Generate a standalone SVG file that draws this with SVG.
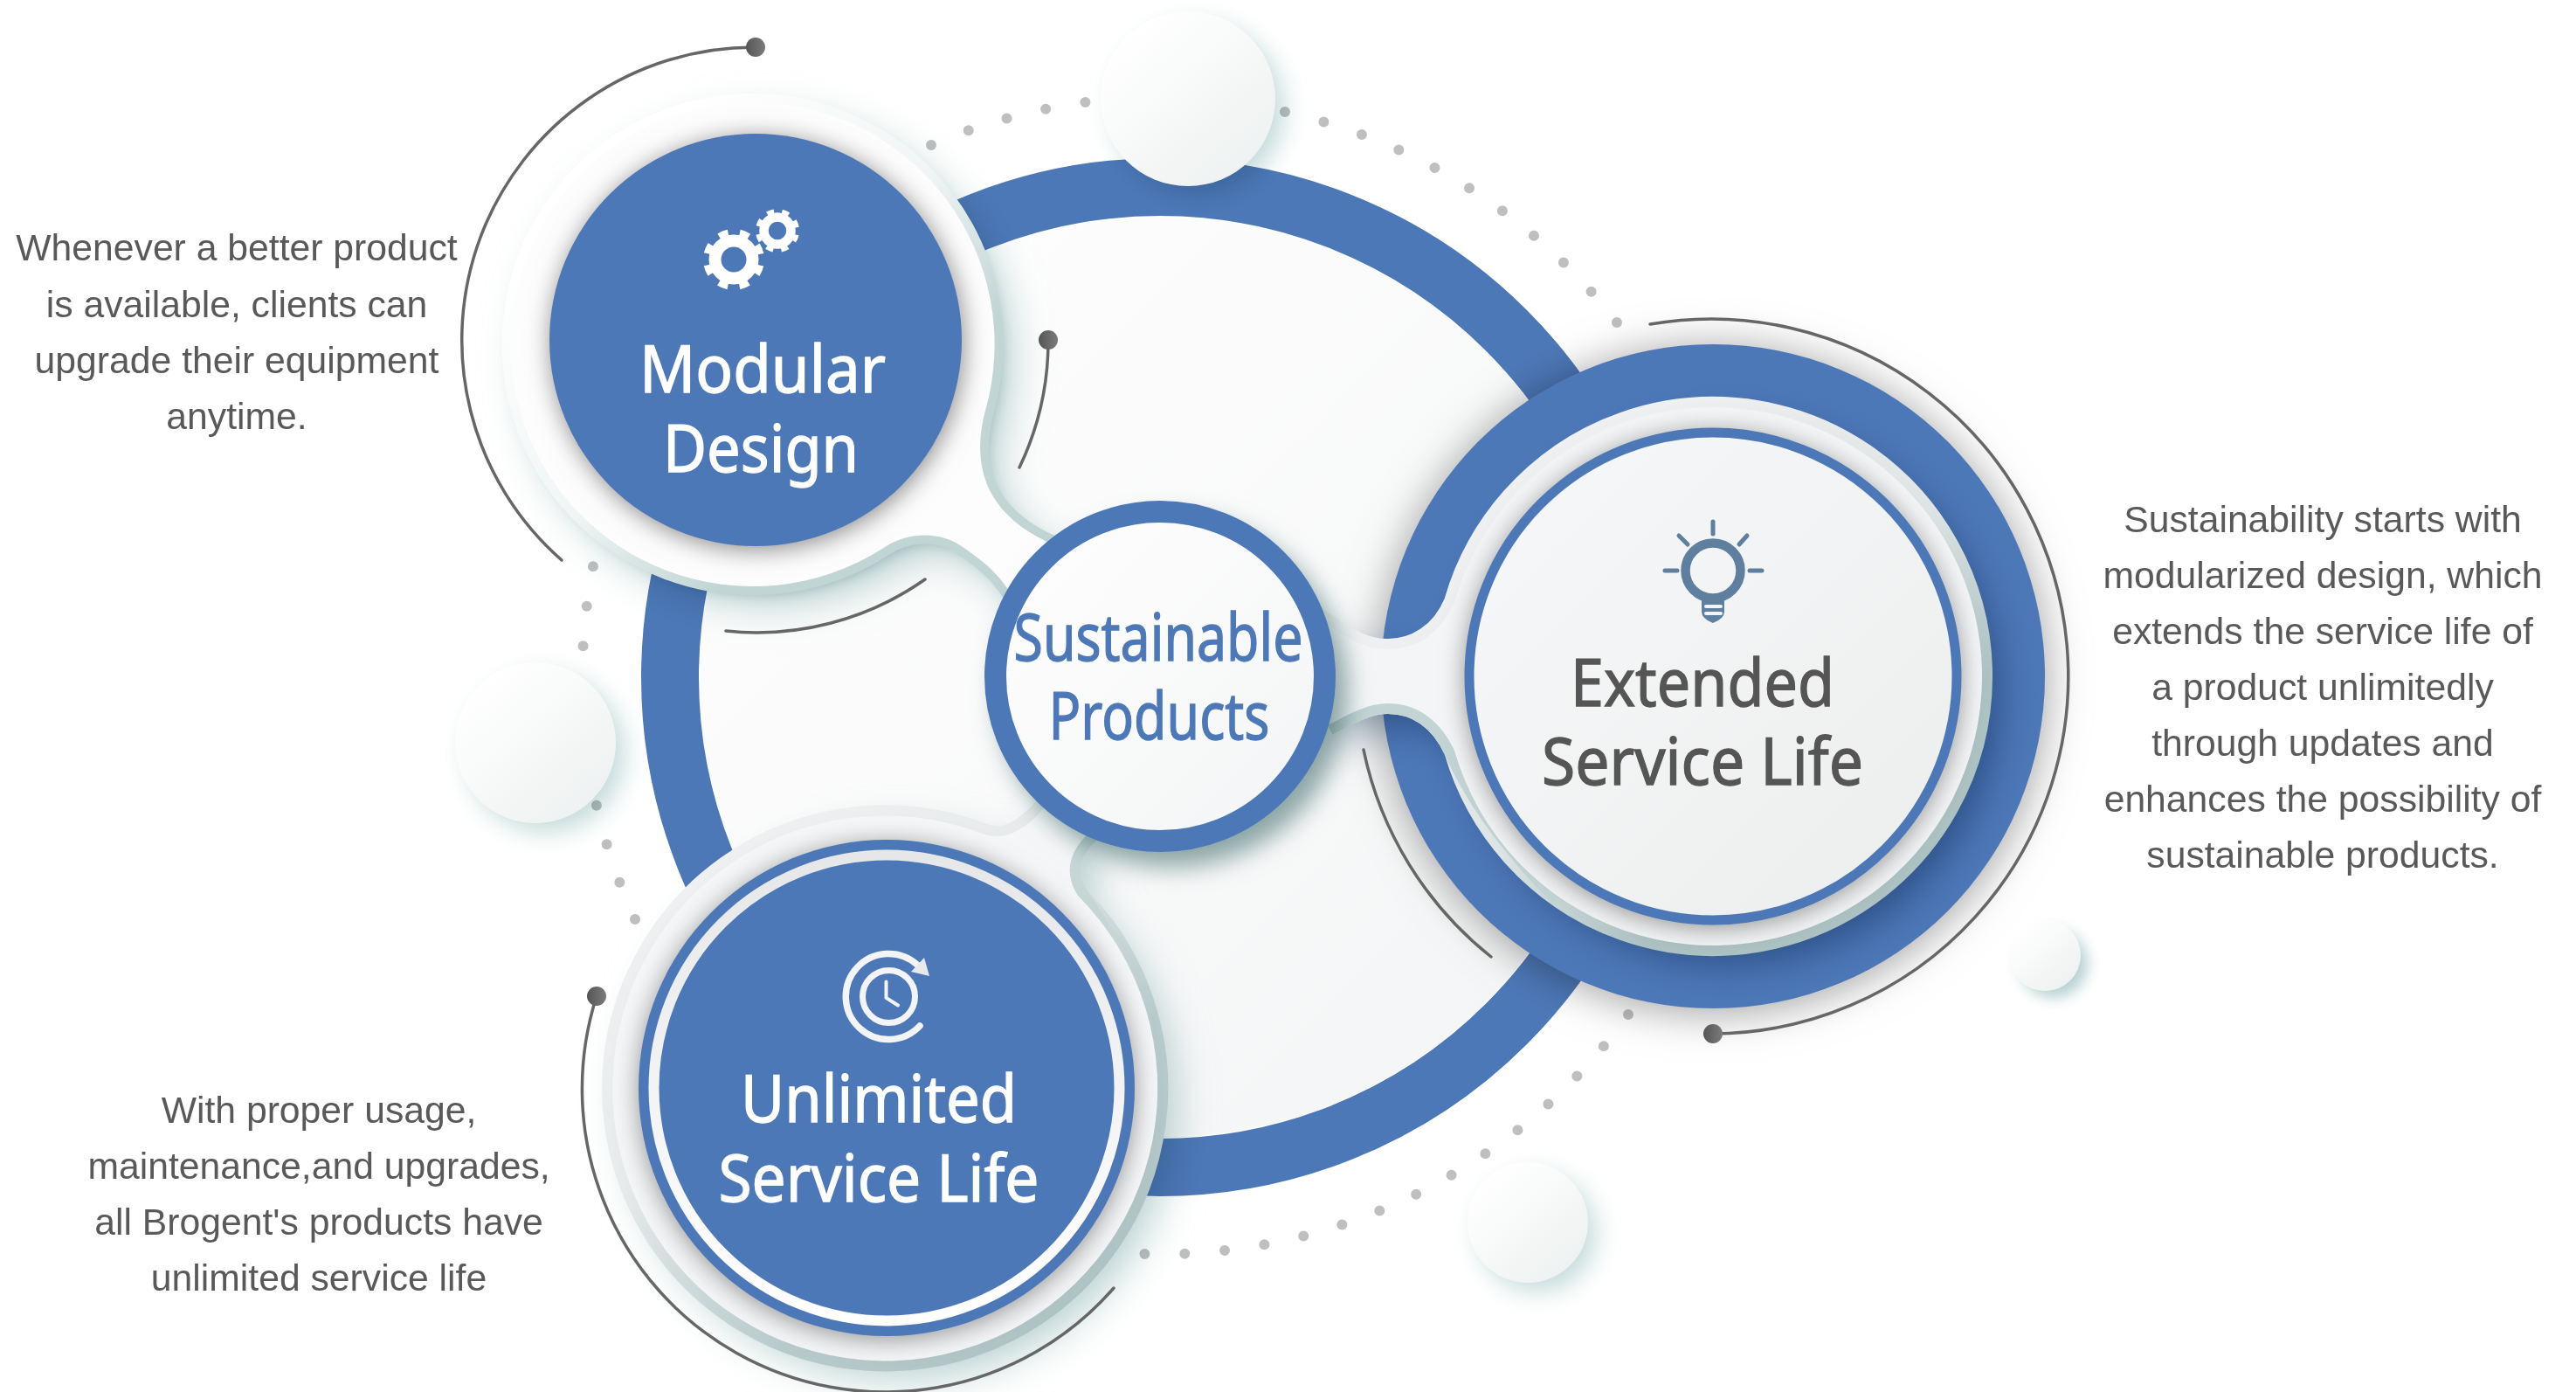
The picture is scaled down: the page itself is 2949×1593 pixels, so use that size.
<svg xmlns="http://www.w3.org/2000/svg" width="2949" height="1593" viewBox="0 0 2949 1593">
<style>
.title{font-family:"Noto Sans","Open Sans","Liberation Sans",sans-serif;font-size:75px;text-anchor:middle;stroke-width:1.3}
.body{font-family:"Liberation Sans",Arial,sans-serif;font-size:42.7px;fill:#595959;text-anchor:middle}
.sh{mix-blend-mode:multiply}
.dots{fill:none;stroke:#bdbfc1;stroke-width:12;stroke-linecap:round;stroke-dasharray:0 45.9}
.arc{fill:none;stroke:#666;stroke-width:3.5;stroke-linecap:round}
</style>
<defs>
<filter id="b8" x="-30%" y="-30%" width="160%" height="160%"><feGaussianBlur stdDeviation="8"/></filter>
<filter id="b14" x="-30%" y="-30%" width="160%" height="160%"><feGaussianBlur stdDeviation="14"/></filter>
<filter id="b24" x="-30%" y="-30%" width="160%" height="160%"><feGaussianBlur stdDeviation="24"/></filter>
<linearGradient id="plate" x1="0" y1="0" x2="1" y2="1"><stop offset="0" stop-color="#fff"/><stop offset="1" stop-color="#f3f4f5"/></linearGradient>
<linearGradient id="ball" x1="0.2" y1="0.1" x2="0.9" y2="0.9"><stop offset="0" stop-color="#fff"/><stop offset="1" stop-color="#eef1f1"/></linearGradient>
<linearGradient id="pin"><stop offset="0" stop-color="#555"/><stop offset="1" stop-color="#7c7c7c"/></linearGradient>
<linearGradient id="inner" x1="0" y1="0" x2="1" y2="1"><stop offset="0" stop-color="#f7f8f9"/><stop offset="1" stop-color="#eceded"/></linearGradient>
<linearGradient id="bandMod" gradientUnits="userSpaceOnUse" x1="700" y1="200" x2="1050" y2="560"><stop offset="0" stop-color="#fff"/><stop offset=".5" stop-color="#f0f5f5"/><stop offset=".85" stop-color="#c0d5d4"/></linearGradient>
<linearGradient id="bandExt" gradientUnits="userSpaceOnUse" x1="1800" y1="540" x2="2200" y2="1040"><stop offset="0" stop-color="#eff0f1"/><stop offset=".45" stop-color="#dfe5e6"/><stop offset=".75" stop-color="#adc2c3"/></linearGradient>
<linearGradient id="bandUnl" gradientUnits="userSpaceOnUse" x1="800" y1="1000" x2="1250" y2="1500"><stop offset="0" stop-color="#eef0f1"/><stop offset=".3" stop-color="#e8ebec"/><stop offset=".7" stop-color="#b8cbcc"/><stop offset="1" stop-color="#aec3c5"/></linearGradient>
<linearGradient id="halo" x1="0" y1="0" x2="0" y2="1"><stop offset="0" stop-color="#e6e7e9"/><stop offset="1" stop-color="#fff"/></linearGradient>
<path id="modBlob" d="M1128 470C1112 530 1125 590 1210 625L1165 695C1150 660 1125 642 1105 628C1075 605 1035 610 1010 628A277 277 0 1 1 1128 470Z"/>
<path id="extBlob" d="M1665 689C1650 725 1620 743 1589 743C1565 743 1545 733 1520 715L1520 830C1545 817 1565 805 1589 805C1620 805 1648 822 1665 859A308 308 0 1 0 1665 689Z"/>
<path id="unlBlob" d="M1122 953C1140 960 1162 962 1195 925L1250 950C1222 975 1218 1000 1234 1025A312 312 0 1 1 1122 953Z"/>
</defs>
<rect width="2949" height="1593" fill="#fff"/>
<g id="background-dots">
<path class="dots" d="M1066 166A663 663 0 0 1 1243 117"/>
<path class="dots" d="M1471 128A663 663 0 0 1 1851 369"/>
<path class="dots" d="M727 1052A662 662 0 0 1 679 648"/>
<path class="dots" d="M1864 1161A661 661 0 0 1 1310 1435"/>
</g>
<g id="main-ring">
<circle cx="1328" cy="775" r="527" fill="url(#plate)"/>
<circle cx="1328" cy="775" r="561" fill="none" stroke="#4d78b8" stroke-width="66"/>
</g>
<g id="decor">
<g><circle class="sh" cx="1372" cy="125" r="98" fill="#c4dada" filter="url(#b14)"/><circle cx="1360" cy="113" r="100" fill="url(#ball)"/></g>
<g><circle class="sh" cx="625" cy="862" r="90" fill="#c4dada" filter="url(#b14)"/><circle cx="613" cy="850" r="92" fill="url(#ball)"/></g>
<g><circle class="sh" cx="1760" cy="1411" r="67" fill="#c4dada" filter="url(#b14)"/><circle cx="1749" cy="1399" r="69" fill="url(#ball)"/></g>
<g><circle class="sh" cx="2351" cy="1103" r="39" fill="#b6d2d1" filter="url(#b8)"/><circle cx="2341" cy="1093" r="41" fill="url(#ball)"/></g>
</g>
<g id="node-extended">
<circle class="sh" cx="1961" cy="778" r="382" fill="#a5a5a5" filter="url(#b24)"/>
<circle cx="1961" cy="774" r="380" fill="#4d78b8"/>
<use href="#extBlob" class="sh" fill="#8ea6b8" filter="url(#b24)" transform="translate(18,20)"/>
<use href="#extBlob" fill="none" stroke="url(#bandExt)" stroke-width="24"/>
<path d="M1520 830C1545 817 1565 805 1589 805C1620 805 1648 822 1665 859C1685 905 1720 960 1790 1030" fill="none" stroke="#c2d5d4" stroke-width="24"/>
<use href="#extBlob" fill="#f4f5f6"/>
<circle class="sh" cx="1961" cy="778" r="284" fill="#9a9a9a" filter="url(#b14)"/>
<circle cx="1961" cy="774" r="279" fill="url(#inner)" stroke="#4d78b8" stroke-width="11"/>
<g fill="none" stroke="#5f7f9f" stroke-width="5" stroke-linecap="round">
<circle cx="1961" cy="653" r="31.5" stroke-width="10.5"/>
<path d="M1961 597V611M1922 613L1932 623M2000 613L1991 623M1906 653H1920M2003 653H2017"/>
</g>
<path d="M1948 680V700Q1948 708 1961 713Q1974 708 1974 700V680Z" fill="#5f7f9f"/>
<path d="M1953 694H1970M1953 702H1970" stroke="#f2f3f4" stroke-width="4" stroke-linecap="round"/>
<text class="title" x="1949" y="808" fill="#555" stroke="#555" textLength="302" lengthAdjust="spacingAndGlyphs">Extended</text>
<text class="title" x="1949" y="898" fill="#555" stroke="#555" textLength="368" lengthAdjust="spacingAndGlyphs">Service Life</text>
</g>
<g id="node-unlimited">
<use href="#unlBlob" class="sh" fill="#b6cfcf" filter="url(#b24)" transform="translate(18,20)"/>
<use href="#unlBlob" fill="none" stroke="url(#bandUnl)" stroke-width="24"/>
<path d="M1250 950C1222 975 1218 1000 1234 1025C1260 1060 1285 1110 1305 1180" fill="none" stroke="#c6d7d6" stroke-width="24"/>
<use href="#unlBlob" fill="#f5f6f7"/>
<circle class="sh" cx="1015" cy="1249" r="284" fill="#9a9a9a" filter="url(#b14)"/>
<circle cx="1015" cy="1245" r="284" fill="#4d78b8"/>
<circle cx="1015" cy="1245" r="266.5" fill="none" stroke="url(#halo)" stroke-width="12"/>
<g fill="none" stroke="#f3f4f5" stroke-linecap="round">
<path d="M1053 1174A49 49 0 1 1 1050 1104" stroke-width="7.5"/>
<circle cx="1017.5" cy="1140.5" r="30" stroke-width="7"/>
<path d="M1014.5 1123.5V1142L1028 1150.5" stroke-width="4"/>
</g>
<polygon points="1058,1096 1064,1117 1043,1112" fill="#e8e9eb"/>
<text class="title" x="1006" y="1284" fill="#fff" stroke="#fff" textLength="316" lengthAdjust="spacingAndGlyphs">Unlimited</text>
<text class="title" x="1006" y="1375" fill="#fff" stroke="#fff" textLength="367" lengthAdjust="spacingAndGlyphs">Service Life</text>
</g>
<g id="node-modular">
<use href="#modBlob" class="sh" fill="#b3cdcc" filter="url(#b24)" transform="translate(16,18)"/>
<use href="#modBlob" class="sh" fill="#c4d9d8" filter="url(#b8)" transform="translate(7,8)"/>
<use href="#modBlob" fill="#fdfdfd" stroke="url(#bandMod)" stroke-width="20" paint-order="stroke"/>
<circle class="sh" cx="867" cy="393" r="236" fill="#8c8c8c" filter="url(#b14)"/>
<circle cx="865" cy="389" r="236" fill="#4d78b8"/>
<g fill="none" stroke="#fff">
<circle cx="840" cy="297" r="21.5" stroke-width="14"/>
<circle cx="840" cy="297" r="31" stroke-width="8" stroke-dasharray="11 13.35" stroke-dashoffset="-6.67"/>
<circle cx="890" cy="264" r="15.5" stroke-width="10.5"/>
<circle cx="890" cy="264" r="22" stroke-width="6" stroke-dasharray="8 9.28" stroke-dashoffset="-4.64"/>
</g>
<text class="title" x="873" y="449" fill="#fff" stroke="#fff" textLength="282" lengthAdjust="spacingAndGlyphs">Modular</text>
<text class="title" x="871" y="540" fill="#fff" stroke="#fff" textLength="224" lengthAdjust="spacingAndGlyphs">Design</text>
</g>
<g id="node-center">
<circle class="sh" cx="1342" cy="792" r="200" fill="#8fa9a9" filter="url(#b14)"/>
<circle cx="1328" cy="774" r="188.5" fill="url(#plate)" stroke="#4d78b8" stroke-width="25"/>
<text class="title" x="1326" y="756" fill="#4d78b8" stroke="#4d78b8" textLength="331" lengthAdjust="spacingAndGlyphs">Sustainable</text>
<text class="title" x="1327" y="846" fill="#4d78b8" stroke="#4d78b8" textLength="253" lengthAdjust="spacingAndGlyphs">Products</text>
</g>
<g id="connectors">
<path class="arc" d="M865 54A335 335 0 0 0 643 641"/>
<path class="arc" d="M1200 389A335 335 0 0 1 1167 535"/>
<path class="arc" d="M1059 663A335 335 0 0 1 831 722"/>
<path class="arc" d="M1889 371A409 409 0 1 1 1961 1183"/>
<path class="arc" d="M1561 858A409 409 0 0 0 1707 1095"/>
<path class="arc" d="M683 1140A347 347 0 0 0 1275 1474"/>
<g fill="url(#pin)">
<circle cx="865" cy="54" r="11"/>
<circle cx="1200" cy="389" r="11"/>
<circle cx="1961" cy="1183" r="11"/>
<circle cx="683" cy="1140" r="11"/>
</g>
</g>
<g id="desc-modular">
<text class="body" x="271" y="298">Whenever a better product</text>
<text class="body" x="271" y="363">is available, clients can</text>
<text class="body" x="271" y="427">upgrade their equipment</text>
<text class="body" x="271" y="491">anytime.</text>
</g>
<g id="desc-extended">
<text class="body" x="2659" y="609">Sustainability starts with</text>
<text class="body" x="2659" y="673">modularized design, which</text>
<text class="body" x="2659" y="737">extends the service life of</text>
<text class="body" x="2659" y="801">a product unlimitedly</text>
<text class="body" x="2659" y="865">through updates and</text>
<text class="body" x="2659" y="929">enhances the possibility of</text>
<text class="body" x="2659" y="993">sustainable products.</text>
</g>
<g id="desc-unlimited">
<text class="body" x="365" y="1285">With proper usage,</text>
<text class="body" x="365" y="1349">maintenance,and upgrades,</text>
<text class="body" x="365" y="1413">all Brogent's products have</text>
<text class="body" x="365" y="1477">unlimited service life</text>
</g>
</svg>
